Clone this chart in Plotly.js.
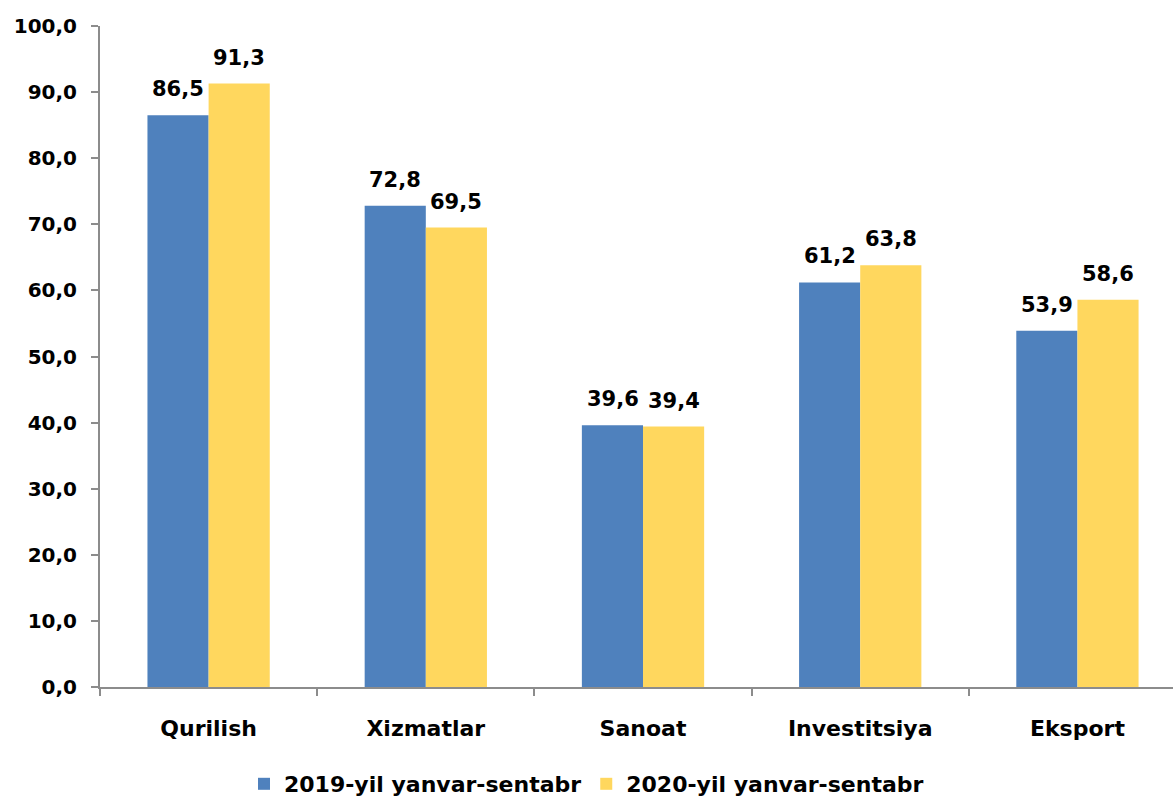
<!DOCTYPE html>
<html>
<head>
<meta charset="utf-8">
<script src="https://cdn.plot.ly/plotly-3.0.1.min.js"></script>
<style>html,body{margin:0;padding:0;background:#fff;}#chart{width:1173px;height:805px;}</style>
</head>
<body>
<div id="chart"></div>
<script>
const categories = ['Qurilish', 'Xizmatlar', 'Sanoat', 'Investitsiya', 'Eksport'];
const series2019 = [86.5, 72.8, 39.6, 61.2, 53.9];
const series2020 = [91.3, 69.5, 39.4, 63.8, 58.6];
const seriesNames = ['2019-yil yanvar-sentabr', '2020-yil yanvar-sentabr'];
const yTickVals = [0, 10, 20, 30, 40, 50, 60, 70, 80, 90, 100];

const FONT = 'DejaVu Sans, Arial, sans-serif';
const colors = ['#4F81BD', '#FFD75E'];
const fmt = v => v.toFixed(1).replace('.', ',');

const traces = [series2019, series2020].map((vals, i) => ({
  type: 'bar',
  name: seriesNames[i],
  x: categories,
  y: vals,
  marker: {color: colors[i], line: {width: 0}},
  hoverinfo: 'x+y'
}));

const annotations = [];
[series2019, series2020].forEach((vals, i) => {
  vals.forEach((v, j) => {
    annotations.push({
      x: categories[j], y: v, xref: 'x', yref: 'y',
      text: fmt(v), showarrow: false,
      xshift: i === 0 ? -30.5 : 30.5, yshift: 26,
      font: {family: FONT, size: 21, color: '#000', weight: 'bold'}
    });
  });
});

const layout = {
  width: 1173, height: 805,
  margin: {l: 100, r: 0, t: 26, b: 118, autoexpand: false},
  paper_bgcolor: '#fff', plot_bgcolor: '#fff',
  barmode: 'group', bargap: 0.437, bargroupgap: 0,
  separators: ', ',
  font: {family: FONT, color: '#000'},
  showlegend: true,
  legend: {orientation: 'h', x: 0.5, xref: 'container', xanchor: 'center',
           y: 0, yref: 'container', yanchor: 'bottom',
           font: {family: FONT, size: 22, color: '#000', weight: 'bold'}, traceorder: 'normal'},
  xaxis: {
    type: 'category', range: [-0.5, 4.44],
    showline: true, linecolor: '#8C8C8C', linewidth: 2,
    ticks: 'outside', tickson: 'boundaries', ticklen: 7, tickcolor: '#8C8C8C', tickwidth: 2,
    tickfont: {family: FONT, size: 22, color: '#000', weight: 'bold'},
    ticklabelstandoff: 21, showgrid: false, zeroline: false, automargin: false
  },
  yaxis: {
    range: [0, 100], tickvals: yTickVals, tickformat: '.1f',
    showline: true, linecolor: '#8C8C8C', linewidth: 2,
    ticks: 'outside', ticklen: 7, tickcolor: '#8C8C8C', tickwidth: 2,
    tickfont: {family: FONT, size: 20, color: '#000', weight: 'bold'},
    ticklabelstandoff: 10, showgrid: false, zeroline: false, automargin: false
  },
  annotations: annotations
};

Plotly.newPlot('chart', traces, layout, {displayModeBar: false, staticPlot: true});
</script>
</body>
</html>
